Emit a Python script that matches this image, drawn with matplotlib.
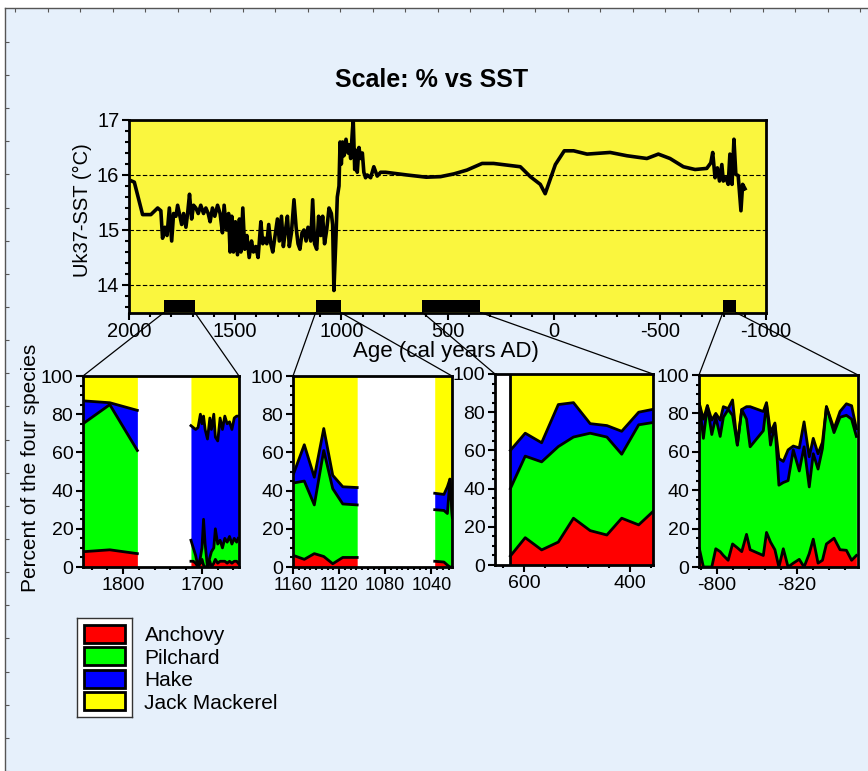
import numpy as np
import matplotlib
matplotlib.use('Agg')
import matplotlib.pyplot as plt
from matplotlib.patches import ConnectionPatch
from matplotlib.ticker import MultipleLocator

plt.rcParams['font.family'] = ['Liberation Sans', 'DejaVu Sans']
plt.rcParams['axes.unicode_minus'] = False

# ---- top panel: Uk37 SST record ----
sst_age = [1987, 1975, 1936, 1897, 1865, 1850, 1842, 1831, 1821, 1810,
           1799, 1790, 1779, 1771, 1763, 1752, 1743, 1732, 1724, 1715,
           1705, 1696, 1685, 1674, 1662, 1649, 1638, 1627, 1618, 1607,
           1596, 1583, 1571, 1560, 1552, 1541, 1531, 1524, 1516, 1508,
           1499, 1489, 1480, 1473, 1464, 1455, 1445, 1434, 1423, 1414,
           1403, 1392, 1379, 1370, 1361, 1351, 1342, 1332, 1323, 1312,
           1301, 1292, 1282, 1273, 1263, 1254, 1245, 1235, 1223, 1213,
           1204, 1195, 1185, 1176, 1166, 1157, 1144, 1135, 1126, 1116,
           1107, 1097, 1088, 1079, 1069, 1058, 1047, 1041, 1035, 1025,
           1019, 1011, 1006, 1000, 994, 988, 978, 969, 963, 956,
           948, 944, 937, 931, 925, 917, 909, 901, 894, 886,
           878, 862, 847, 831, 815, 792, 690, 600, 533, 470,
           408, 337, 283, 157, 110, 63, 40, -8, -50, -94,
           -157, -266, -345, -439, -493, -548, -611, -666, -721, -740,
           -749, -760, -771, -781, -792, -799, -811, -822, -830, -840,
           -849, -858, -869, -882, -890, -901]
sst_val = [15.89, 15.87, 15.28, 15.28, 15.40, 15.35, 14.85, 15.05, 14.90, 15.40,
           14.80, 15.30, 15.25, 15.45, 15.30, 15.10, 15.30, 15.05, 15.30, 15.65,
           15.20, 15.45, 15.40, 15.30, 15.45, 15.30, 15.40, 15.30, 15.15, 15.40,
           15.25, 15.45, 15.30, 14.95, 15.45, 15.00, 15.30, 14.60, 15.25, 14.60,
           15.15, 14.55, 15.20, 14.60, 15.40, 14.65, 14.90, 14.50, 14.80, 14.60,
           14.70, 14.50, 15.15, 14.75, 14.85, 14.75, 15.10, 14.75, 14.60, 14.90,
           15.20, 14.80, 15.25, 14.70, 15.00, 15.25, 14.70, 14.95, 15.55, 15.05,
           14.75, 14.65, 14.95, 15.00, 14.80, 15.05, 14.80, 15.55, 14.75, 14.65,
           15.25, 14.90, 15.25, 14.75, 15.00, 15.40, 15.30, 15.10, 13.90, 14.90,
           15.60, 15.80, 16.60, 16.20, 16.60, 16.35, 16.65, 16.40, 16.55, 16.30,
           16.80, 17.00, 16.10, 16.45, 16.05, 16.50, 16.30, 16.40, 16.05, 15.95,
           16.00, 15.95, 16.15, 15.98, 16.05, 16.05, 16.00, 15.96, 15.97, 16.02,
           16.09, 16.21, 16.21, 16.15, 15.97, 15.83, 15.66, 16.19, 16.44, 16.44,
           16.38, 16.41, 16.35, 16.30, 16.38, 16.30, 16.15, 16.10, 16.12, 16.22,
           16.41, 15.95, 16.13, 15.89, 16.19, 15.89, 15.95, 15.83, 16.38, 15.83,
           16.65, 16.01, 15.99, 15.35, 15.83, 15.75]

# sampled intervals shown as black bars
bar_start = [1835, 1121, 618, -797]
bar_end = [1690, 1003, 345, -858]

# ---- lower panels: cumulative percent (anchovy, +pilchard, +hake; rest jack mackerel) ----
p1a_age = [1851, 1817, 1782]
p1a_anch = [8, 9, 7]
p1a_pil = [75, 85, 61]
p1a_hake = [87, 86, 82]

p1b_age = [1714, 1711, 1708, 1705, 1702, 1700, 1698, 1696, 1693, 1690, 1688, 1685,
           1683, 1680, 1677, 1674, 1671, 1668, 1665, 1662, 1659, 1656, 1654]
p1b_anch = [3, 3, 2, 0, 2, 4, 1, 0, 0, 3, 0, 2, 4, 2, 3, 3, 3, 2, 3, 2, 3, 3, 2]
p1b_pil = [14, 10, 6, 0, 5, 10, 25, 12, 0, 5, 8, 10, 20, 12, 14, 10, 15, 13, 16, 12, 15, 13, 15]
p1b_hake = [74, 73, 72, 73, 80, 75, 79, 72, 67, 78, 72, 80, 68, 66, 78, 72, 79, 75, 76, 72, 78, 79, 79]

p2a_age = [1159.4, 1150.2, 1141.5, 1133.3, 1125.5, 1116.8, 1104.3]
p2a_anch = [6, 4, 7, 5.5, 1.7, 5, 5]
p2a_pil = [44, 45, 32.5, 61, 41, 33, 32.5]
p2a_hake = [49, 64, 47, 72.5, 48, 42, 41.6]

p2b_age = [1037, 1029, 1026, 1023.8, 1021.7]
p2b_anch = [3, 2.6, 1, 0, 0]
p2b_pil = [30, 29.6, 28, 46, 26]
p2b_hake = [38.6, 38, 42, 46, 26]

p3_age = [626, 598, 567, 535.6, 507, 475.5, 444, 416, 384, 357]
p3_anch = [4.7, 14.3, 7.9, 12, 24.5, 18, 15.7, 24.5, 21, 28]
p3_pil = [40, 57, 54, 62, 67, 69, 67, 58, 73.4, 74.6]
p3_hake = [60, 69, 64, 84, 85, 74, 73, 70, 80, 81.5]

p4_age = [-795.6, -796.6, -797.6, -798.7, -799.7, -800.8, -801.6, -802.8, -803.9, -805.1,
          -806.2, -807.4, -808.3, -811.6, -812.4, -813.4, -814.5, -815.5, -816.6, -817.8,
          -819.1, -820.6, -821.8, -823.1, -824.1, -825.3, -826.4, -827.4, -829.3, -830.8,
          -832.4, -833.7, -834.9]
p4_anch = [9.5, 0, 0, 0, 9.5, 8, 6, 3.5, 12, 10, 8, 17, 9, 6, 18, 13, 9, 0, 9.5, 0,
           2, 4, 0, 7, 14.5, 2, 3.5, 12, 15, 9, 8.7, 3.5, 6]
p4_pil = [85, 67, 84, 69, 78, 68, 78, 82, 79, 63.5, 82, 77, 62.6, 71, 85, 63.5, 74, 42.6,
          44, 45, 61, 50, 62.6, 41.7, 59, 51, 61.7, 83.5, 70, 78, 79, 77, 68]
p4_hake = [85, 77, 84, 76.5, 80, 76.5, 83.5, 82.5, 87, 63.5, 82, 83.5, 83.5, 81, 85.6, 70,
           75, 56.5, 55, 61, 63, 62, 75.6, 57.4, 67, 59, 65, 83.5, 72, 81, 85, 84, 72]

species = ['Anchovy', 'Pilchard', 'Hake', 'Jack Mackerel']
colors = ['#ff0000', '#00ff00', '#0000ff', '#ffff00']

panel_xlim = [(1851, 1653), (1160, 1022), (655, 357), (-795.5, -835.3)]
panel_xticks = [[1800, 1700], [1160, 1120, 1080, 1040], [600, 400], [-800, -820]]
panel_minor = [20, 5, 40, 4]
panel_xlabelsize = [14, 13, 14, 14]

W, H = 868, 771


def frac(x0, y0, x1, y1):
    return [x0 / W, 1 - y1 / H, (x1 - x0) / W, (y1 - y0) / H]


def draw_stack(ax, age, anch, pil, hake, edge=False):
    ax.fill_between(age, 0, anch, color=colors[0], lw=0)
    ax.fill_between(age, anch, pil, color=colors[1], lw=0)
    ax.fill_between(age, pil, hake, color=colors[2], lw=0)
    ax.fill_between(age, hake, 100, color=colors[3], lw=0)
    for line in (anch, pil, hake):
        ax.plot(age, line, color='black', lw=2)
    if edge:
        ax.plot([age[0], age[0]], [0, 100], color='black', lw=2)


fig = plt.figure(figsize=(W / 100, H / 100), dpi=100, facecolor='white')

# page background with ruler-like edges
bg = fig.add_axes([5 / W, 0, 1 - 5 / W, (H - 8) / H], zorder=-5)
bg.set_facecolor('#e6f0fb')
bg.set_xlim(0, W - 5)
bg.set_ylim(H - 8, 0)
for s in ('right', 'bottom'):
    bg.spines[s].set_visible(False)
for s in ('left', 'top'):
    bg.spines[s].set_color('#555555')
    bg.spines[s].set_linewidth(1)
bg.xaxis.tick_top()
bg.set_xticks(np.arange(10, W, 32.5))
bg.set_yticks(np.arange(34, H, 33.3))
bg.tick_params(direction='in', length=3, color='#555555', labeltop=False, labelleft=False)

# top SST panel
ax = fig.add_axes(frac(129, 120, 766, 312.5))
ax.set_facecolor('#faf63e')
ax.plot(sst_age, sst_val, color='black', lw=2.6, zorder=3)
bar_left = [min(a, b) for a, b in zip(bar_start, bar_end)]
bar_w = [abs(a - b) for a, b in zip(bar_start, bar_end)]
ax.bar(bar_left, 0.23, width=bar_w, bottom=13.5, align='edge', color='black', zorder=4)
ax.set_xlim(2000, -1000)
ax.set_ylim(13.5, 17)
ax.set_yticks([14, 15, 16, 17])
ax.yaxis.set_minor_locator(MultipleLocator(0.2))
ax.set_xticks([2000, 1500, 1000, 500, 0, -500, -1000])
ax.xaxis.set_minor_locator(MultipleLocator(100))
ax.grid(axis='y', which='major', color='black', linestyle=(0, (4, 2)), lw=0.8)
ax.tick_params(which='major', direction='out', length=5, width=1.5, labelsize=14.5, pad=2)
ax.tick_params(which='minor', direction='out', length=3, width=1.5)
for s in ax.spines.values():
    s.set_linewidth(2)
ax.set_ylabel('Uk37-SST (°C)', fontsize=14.5)
ax.yaxis.set_label_coords(-0.058, 0.53)
ax.set_xlabel('Age (cal years AD)', fontsize=16)
ax.xaxis.set_label_coords(0.4976, -0.15)

fig.text(432 / W, 1 - 80 / H, 'Scale: % vs SST', ha='center', va='center',
         fontsize=18, fontweight='bold')

# lower panels
boxes = [(83, 376, 239, 567), (293, 376, 452, 567), (495, 374, 653, 565), (699, 375, 858, 567)]
segments = [
    [(p1a_age, p1a_anch, p1a_pil, p1a_hake, False), (p1b_age, p1b_anch, p1b_pil, p1b_hake, False)],
    [(p2a_age, p2a_anch, p2a_pil, p2a_hake, False), (p2b_age, p2b_anch, p2b_pil, p2b_hake, False)],
    [(p3_age, p3_anch, p3_pil, p3_hake, True)],
    [(p4_age, p4_anch, p4_pil, p4_hake, False)],
]
panels = []
for i, box in enumerate(boxes):
    pa = fig.add_axes(frac(*box))
    pa.set_facecolor('white')
    for age, a, p, h, edge in segments[i]:
        draw_stack(pa, age, a, p, h, edge)
    pa.set_xlim(*panel_xlim[i])
    pa.set_ylim(0, 100)
    pa.set_yticks([0, 20, 40, 60, 80, 100])
    pa.yaxis.set_minor_locator(MultipleLocator(5))
    pa.set_xticks(panel_xticks[i])
    pa.xaxis.set_minor_locator(MultipleLocator(panel_minor[i]))
    pa.tick_params(which='major', direction='out', length=5, width=1.5, pad=2)
    pa.tick_params(axis='y', labelsize=14)
    pa.tick_params(axis='x', labelsize=panel_xlabelsize[i])
    pa.tick_params(which='minor', direction='out', length=2.5, width=1.5)
    for s in pa.spines.values():
        s.set_linewidth(2)
        s.set_zorder(5)
    panels.append(pa)

fig.text(31 / W, 1 - 468 / H, 'Percent of the four species', rotation=90,
         ha='center', va='center', fontsize=15)

# zoom connectors from bars to panels
for i, pa in enumerate(panels):
    for xa, xb in ((bar_start[i], 0), (bar_end[i], 1)):
        con = ConnectionPatch(xyA=(xa, 13.5), coordsA=ax.transData,
                              xyB=(xb, 1), coordsB=pa.transAxes,
                              color='black', lw=0.9)
        fig.add_artist(con)

# legend
lg = fig.add_axes(frac(77, 618, 132, 717))
lg.set_facecolor('white')
lg.barh(range(len(species)), 1, height=0.8, color=colors, edgecolor='black', lw=2)
lg.set_xlim(-0.155, 1.155)
lg.set_ylim(3.7, -0.7)
lg.set_xticks([])
lg.set_yticks(range(len(species)))
lg.set_yticklabels(species, fontsize=15)
lg.yaxis.tick_right()
lg.tick_params(axis='y', length=0, pad=9)
for s in lg.spines.values():
    s.set_color('#333333')
    s.set_linewidth(1)

fig.savefig('out.png', dpi=100, facecolor='white')
